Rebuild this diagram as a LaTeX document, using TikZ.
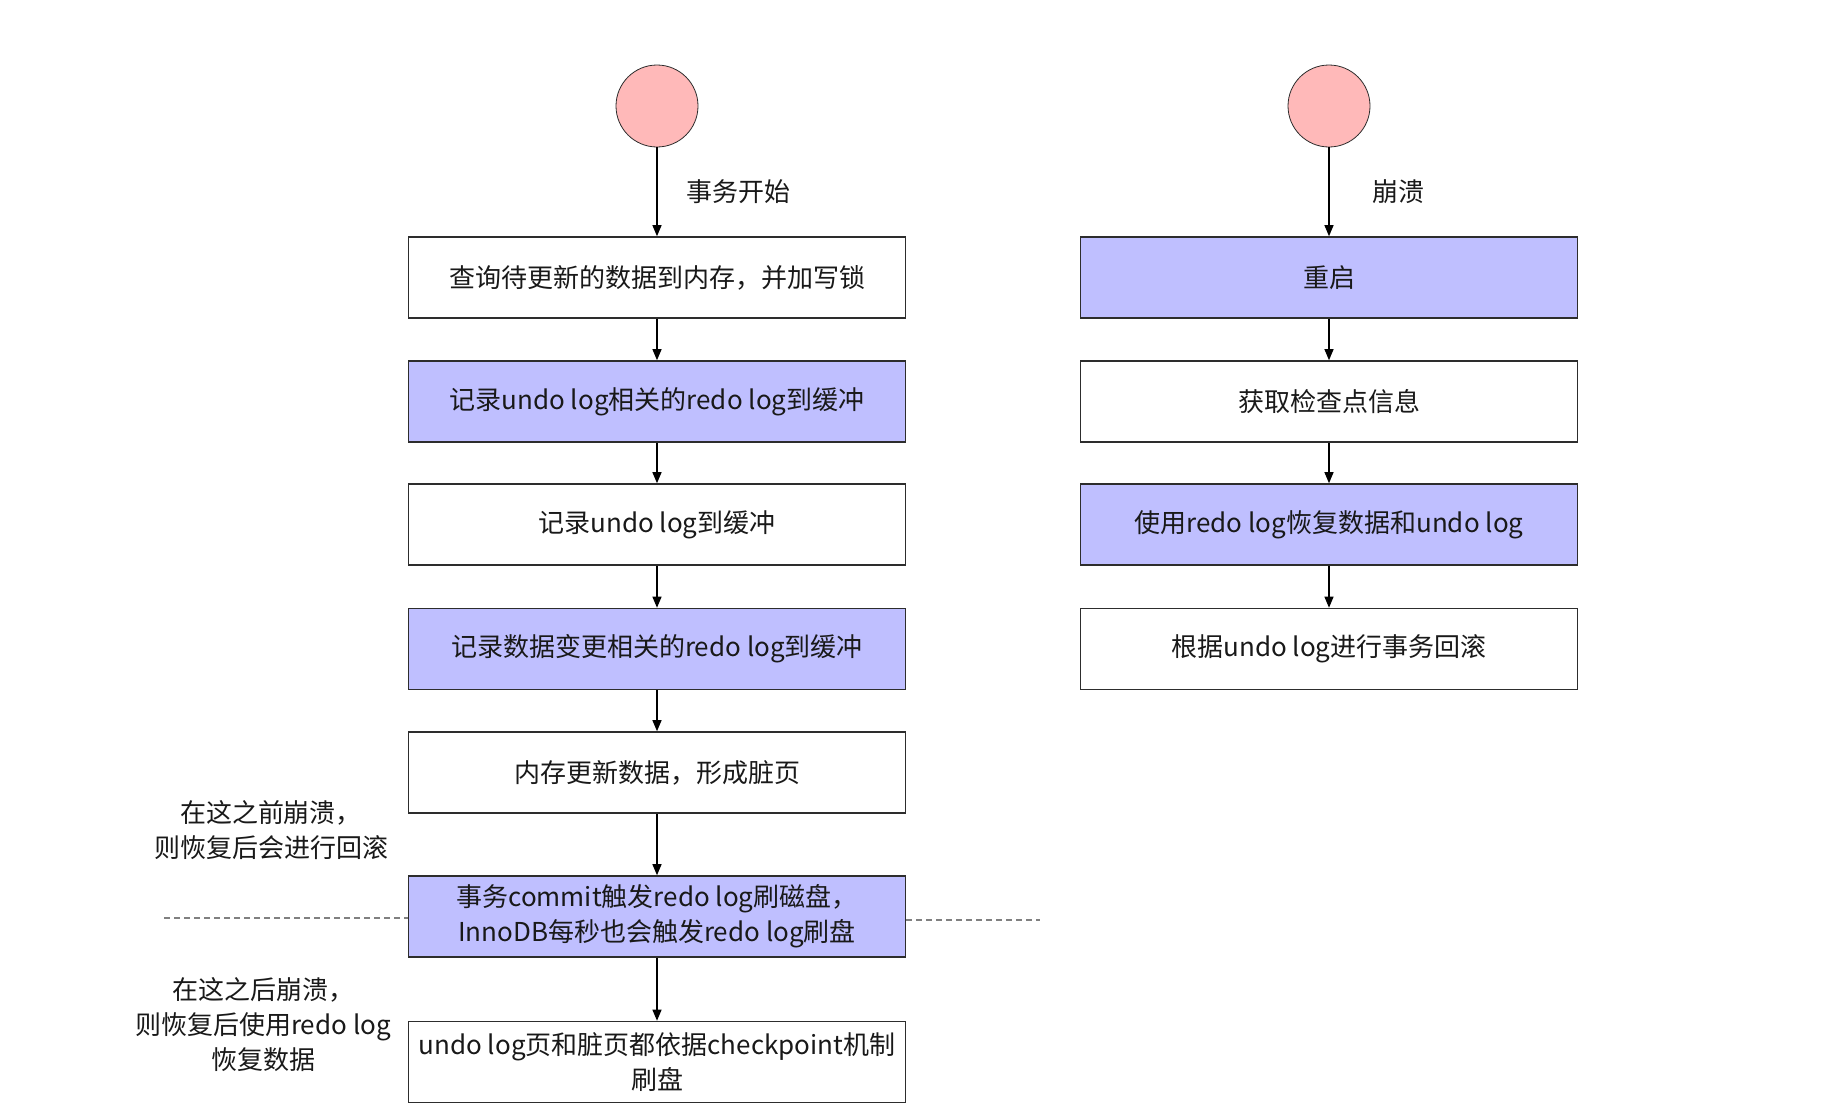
\documentclass[tikz,border=0pt]{standalone}
\usepackage{fontspec}
\setmainfont{Noto Sans CJK SC}
\usetikzlibrary{arrows.meta}
\definecolor{startpink}{RGB}{255, 185, 185}
\definecolor{steplilac}{RGB}{191, 191, 255}
\definecolor{edgegray}{RGB}{45, 45, 45}

\begin{document}
\begin{tikzpicture}[x=0.5pt, y=-0.5pt,
    font=\fontsize{13}{17.5}\selectfont, text=black!90,
    box/.style={draw=edgegray, line width=0.8pt, minimum width=248.5pt,
        minimum height=40.5pt, inner sep=0pt, align=center},
    hl/.style={box, fill=steplilac},
    start/.style={draw=edgegray, circle, fill=startpink, minimum size=41pt, inner sep=0pt},
    link/.style={-{Triangle[length=5.5pt, width=4.5pt]}, line width=0.6pt},
    cut/.style={draw=gray, dash pattern=on 3pt off 2pt, line width=0.6pt}]
    \useasboundingbox (0,0) rectangle (1842,1114);

    % transaction
    \node[start] (s1) at (657,106) {};
    \node[box] (1) at (657,277.5) {查询待更新的数据到内存，并加写锁};
    \node[hl]  (2) at (657,401.5) {记录undo log相关的redo log到缓冲};
    \node[box] (3) at (657,524.5) {记录undo log到缓冲};
    \node[hl]  (4) at (657,649) {记录数据变更相关的redo log到缓冲};
    \node[box] (5) at (657,772.5) {内存更新数据，形成脏页};
    \node[hl]  (6) at (657,916.5) {事务commit触发redo log刷磁盘，\\InnoDB每秒也会触发redo log刷盘};
    \node[box] (7) at (657,1062) {undo log页和脏页都依据checkpoint机制\\刷盘};

    \draw[link] (s1) -- node[right, xshift=11pt] {事务开始} (1);
    \draw[link] (1) -- (2);
    \draw[link] (2) -- (3);
    \draw[link] (3) -- (4);
    \draw[link] (4) -- (5);
    \draw[link] (5) -- (6);
    \draw[link] (6) -- (7);

    % crash recovery
    \node[start] (s2) at (1329,106) {};
    \node[hl]  (r1) at (1329,277.5) {重启};
    \node[box] (r2) at (1329,401.5) {获取检查点信息};
    \node[hl]  (r3) at (1329,524.5) {使用redo log恢复数据和undo log};
    \node[box] (r4) at (1329,649) {根据undo log进行事务回滚};

    \draw[link] (s2) -- node[right, xshift=18pt] {崩溃} (r1);
    \draw[link] (r1) -- (r2);
    \draw[link] (r2) -- (r3);
    \draw[link] (r3) -- (r4);

    % commit line
    \coordinate (cl) at (164,918);
    \coordinate (cr) at (1040,920);
    \draw[cut] (cl) -- (6.west |- cl);
    \draw[cut] (6.east |- cr) -- (cr);
    \node[align=center] (before) at (271,830) {在这之前崩溃，\\则恢复后会进行回滚};
    \node[align=center] (after) at (263,1025) {在这之后崩溃，\\则恢复后使用redo log\\恢复数据};
\end{tikzpicture}
\end{document}
